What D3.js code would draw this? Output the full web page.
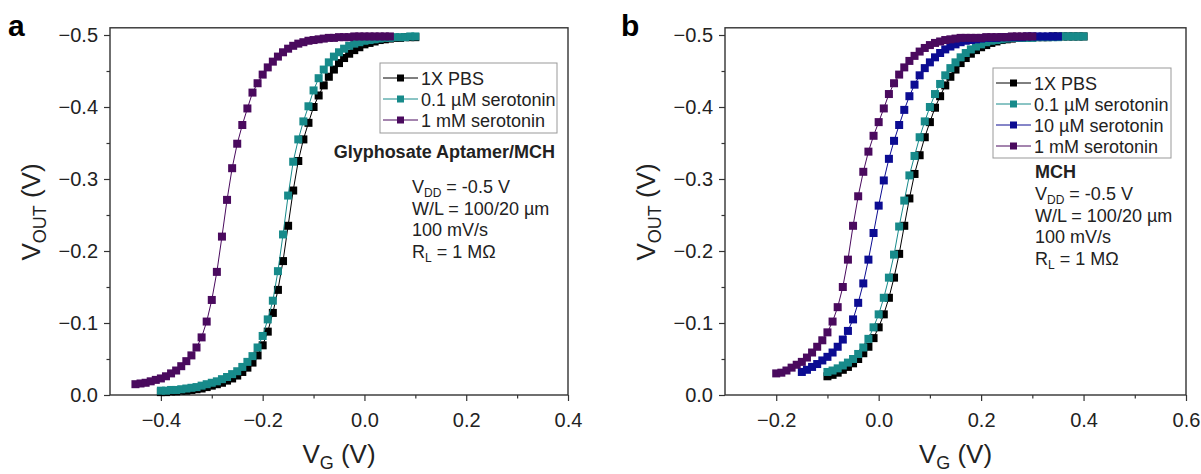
<!DOCTYPE html>
<html>
<head>
<meta charset="utf-8">
<script src="https://cdn.jsdelivr.net/npm/d3@7"></script>
<style>
  body { margin: 0; background: #fff; }
  svg { display: block; font-family: "Liberation Sans", Arial, sans-serif; }
</style>
</head>
<body>
<svg id="chart" width="1201" height="474"></svg>
<script>
// gate sweep step (V) - every series is sampled every 10 mV
const vgStep = 0.01

// panel a: Glyphosate Aptamer/MCH, V_OUT (V)
const aPbsStart = -0.40
const aPbs = [-0.004,-0.004,-0.005,-0.005,-0.006,-0.006,-0.007,-0.008,-0.009,-0.011,
  -0.013,-0.015,-0.017,-0.020,-0.023,-0.027,-0.032,-0.038,-0.045,-0.055,
  -0.069,-0.088,-0.114,-0.146,-0.186,-0.235,-0.284,-0.325,-0.355,-0.378,
  -0.400,-0.416,-0.430,-0.442,-0.452,-0.461,-0.468,-0.474,-0.479,-0.483,
  -0.487,-0.489,-0.491,-0.493,-0.494,-0.495,-0.496,-0.496,-0.497,-0.497,-0.497]
const aSer01Start = -0.40
const aSer01 = [-0.006,-0.006,-0.007,-0.007,-0.008,-0.009,-0.010,-0.011,-0.013,-0.015,
  -0.017,-0.019,-0.022,-0.025,-0.029,-0.033,-0.039,-0.046,-0.054,-0.066,
  -0.082,-0.105,-0.131,-0.172,-0.223,-0.277,-0.324,-0.355,-0.380,-0.401,
  -0.423,-0.440,-0.452,-0.462,-0.470,-0.476,-0.481,-0.485,-0.488,-0.490,
  -0.492,-0.493,-0.494,-0.495,-0.496,-0.496,-0.497,-0.497,-0.497,-0.498,-0.498]
const aSer1mStart = -0.45
const aSer1m = [-0.015,-0.016,-0.017,-0.019,-0.021,-0.023,-0.026,-0.030,-0.034,-0.040,
  -0.047,-0.055,-0.066,-0.080,-0.102,-0.132,-0.171,-0.220,-0.271,-0.315,
  -0.349,-0.375,-0.398,-0.420,-0.433,-0.445,-0.455,-0.463,-0.470,-0.476,
  -0.481,-0.485,-0.488,-0.490,-0.492,-0.493,-0.494,-0.495,-0.496,-0.496,
  -0.497,-0.497,-0.497,-0.498,-0.498,-0.498,-0.498,-0.498,-0.498,-0.498,-0.498]

// panel b: MCH
const bPbsStart = -0.10
const bPbs = [-0.026,-0.028,-0.031,-0.035,-0.039,-0.044,-0.050,-0.058,-0.067,-0.079,
  -0.094,-0.112,-0.135,-0.163,-0.196,-0.235,-0.273,-0.307,-0.333,-0.358,
  -0.379,-0.399,-0.415,-0.430,-0.442,-0.452,-0.461,-0.468,-0.474,-0.479,
  -0.483,-0.486,-0.489,-0.491,-0.493,-0.494,-0.495,-0.496,-0.496,-0.497,
  -0.497,-0.497,-0.497,-0.497,-0.498,-0.498,-0.498,-0.498,-0.498,-0.498,-0.498]
const bSer01Start = -0.10
const bSer01 = [-0.032,-0.034,-0.037,-0.041,-0.045,-0.050,-0.057,-0.066,-0.078,-0.094,
  -0.112,-0.135,-0.163,-0.195,-0.234,-0.270,-0.305,-0.332,-0.358,-0.380,
  -0.400,-0.418,-0.432,-0.444,-0.454,-0.462,-0.469,-0.475,-0.480,-0.484,
  -0.487,-0.490,-0.492,-0.493,-0.494,-0.495,-0.496,-0.496,-0.496,-0.496,
  -0.496,-0.497,-0.497,-0.497,-0.497,-0.497,-0.498,-0.498,-0.498,-0.498,-0.498]
const bSer10Start = -0.15
const bSer10 = [-0.032,-0.035,-0.039,-0.043,-0.048,-0.053,-0.059,-0.067,-0.077,-0.089,
  -0.105,-0.128,-0.155,-0.188,-0.225,-0.263,-0.298,-0.328,-0.353,-0.375,
  -0.396,-0.415,-0.431,-0.444,-0.454,-0.462,-0.469,-0.475,-0.480,-0.484,
  -0.487,-0.490,-0.492,-0.493,-0.494,-0.495,-0.496,-0.496,-0.496,-0.497,
  -0.497,-0.497,-0.497,-0.497,-0.498,-0.498,-0.498,-0.498,-0.498,-0.498,-0.498]
const bSer1mStart = -0.20
const bSer1m = [-0.030,-0.031,-0.034,-0.038,-0.042,-0.046,-0.052,-0.059,-0.067,-0.076,
  -0.087,-0.102,-0.122,-0.150,-0.188,-0.235,-0.276,-0.310,-0.338,-0.360,
  -0.379,-0.398,-0.418,-0.433,-0.445,-0.455,-0.464,-0.471,-0.477,-0.482,
  -0.486,-0.489,-0.491,-0.493,-0.494,-0.495,-0.496,-0.496,-0.496,-0.496,
  -0.496,-0.497,-0.497,-0.497,-0.497,-0.497,-0.498,-0.498,-0.498,-0.498,-0.498]

// axis ticks
const aXTicks = [-0.4, -0.2, 0.0, 0.2, 0.4]
const aXMinor = [-0.3, -0.1, 0.1, 0.3]
const bXTicks = [-0.2, 0.0, 0.2, 0.4, 0.6]
const bXMinor = [-0.1, 0.1, 0.3, 0.5]
const yTicks = [0.0, -0.1, -0.2, -0.3, -0.4, -0.5]
const yMinor = [-0.05, -0.15, -0.25, -0.35, -0.45]

// legend labels / notes
const aLabels = ['1X PBS', '0.1 µM serotonin', '1 mM serotonin']
const bLabels = ['1X PBS', '0.1 µM serotonin', '10 µM serotonin', '1 mM serotonin']
const colors = { pbs: '#000000', s01: '#178a8a', s10: '#0c0c92', s1m: '#4a0a5e' }

const svg = d3.select('#chart')
const fmt = d3.format('.1f')
const axisY = 395, plotTop = 27.8

function drawPanel(p) {
    const g = svg.append('g')
    const x = d3.scaleLinear().domain(p.xDomain).range([p.left, p.right])
    const y = d3.scaleLinear().domain([0, -0.5]).range([axisY, 35])

    //axes
    const xa = g.append('g').attr('transform', `translate(0,${axisY})`)
    xa.call(d3.axisBottom(x).tickValues(p.xTicks).tickFormat(fmt).tickSize(6).tickPadding(12))
    const xm = g.append('g').attr('transform', `translate(0,${axisY})`)
    xm.call(d3.axisBottom(x).tickValues(p.xMinor).tickFormat('').tickSize(3.5))
    const ya = g.append('g').attr('transform', `translate(${p.left},0)`)
    ya.call(d3.axisLeft(y).tickValues(yTicks).tickFormat(fmt).tickSize(6).tickPadding(6))
    const ym = g.append('g').attr('transform', `translate(${p.left},0)`)
    ym.call(d3.axisLeft(y).tickValues(yMinor).tickFormat('').tickSize(3.5))
    g.selectAll('.domain').remove()
    g.selectAll('.tick line').attr('stroke', '#333').attr('stroke-width', 1.2)
    g.selectAll('.tick text').attr('font-size', 20).attr('fill', '#222')
        .attr('font-family', '"Liberation Sans", Arial, sans-serif')

    //frame
    g.append('rect')
        .attr('x', p.left).attr('y', plotTop)
        .attr('width', p.right - p.left).attr('height', axisY - plotTop)
        .attr('fill', 'none').attr('stroke', '#333').attr('stroke-width', 1.4)

    //series
    const line = d3.line().x(d => x(d.vg)).y(d => y(d.vout))
    p.series.forEach(s => {
        const pts = s.values.map((v, i) => ({ vg: s.start + i * vgStep, vout: v }))
        g.append('path').datum(pts)
            .attr('fill', 'none').attr('stroke', s.color).attr('stroke-width', 1)
            .attr('d', line)
        g.append('g').selectAll('rect').data(pts).join('rect')
            .attr('x', d => x(d.vg) - 4).attr('y', d => y(d.vout) - 4)
            .attr('width', 8).attr('height', 8)
            .attr('fill', s.color)
    })

    //axis titles
    const xt = g.append('text').attr('x', (p.left + p.right) / 2).attr('y', 463)
        .attr('text-anchor', 'middle').attr('font-size', 26).attr('fill', '#222')
    xt.append('tspan').text('V')
    xt.append('tspan').text('G').attr('font-size', 18).attr('dy', 6)
    xt.append('tspan').text(' (V)').attr('dy', -6)

    const yt = g.append('text').attr('transform', `translate(${p.left - 70},212) rotate(-90)`)
        .attr('text-anchor', 'middle').attr('font-size', 26).attr('fill', '#222')
    yt.append('tspan').text('V')
    yt.append('tspan').text('OUT').attr('font-size', 18).attr('dy', 6)
    yt.append('tspan').text(' (V)').attr('dy', -6)

    //panel letter
    g.append('text').attr('x', p.letterX).attr('y', 36)
        .attr('font-size', 30).attr('font-weight', 'bold').text(p.letter)

    //legend
    const lg = g.append('g')
    lg.append('rect').attr('x', p.legend.x).attr('y', p.legend.y)
        .attr('width', p.legend.w).attr('height', p.legend.h)
        .attr('fill', '#fff').attr('stroke', '#999').attr('stroke-width', 1)
    p.series.forEach((s, i) => {
        const cy = p.legend.y + 15 + i * 21
        const lx = p.legend.x + 3
        lg.append('line').attr('x1', lx).attr('x2', lx + 35).attr('y1', cy).attr('y2', cy)
            .attr('stroke', s.color).attr('stroke-width', 1)
        lg.append('rect').attr('x', lx + 17.5 - 3.5).attr('y', cy - 3.5)
            .attr('width', 7).attr('height', 7).attr('fill', s.color)
        lg.append('text').attr('x', lx + 38).attr('y', cy + 6.5)
            .attr('font-size', 18).attr('fill', '#222').text(s.label)
    })

    //notes
    g.append('text').attr('x', p.note.titleX).attr('y', p.note.titleY)
        .attr('text-anchor', p.note.anchor)
        .attr('font-size', 18).attr('font-weight', 'bold').attr('fill', '#222').text(p.note.title)
    const nx = p.note.x
    const ny = p.note.y
    const n1 = g.append('text').attr('x', nx).attr('y', ny).attr('font-size', 18).attr('fill', '#222')
    n1.append('tspan').text('V')
    n1.append('tspan').text('DD').attr('font-size', 12).attr('dy', 4)
    n1.append('tspan').text(' = -0.5 V').attr('dy', -4)
    g.append('text').attr('x', nx).attr('y', ny + 21.5).attr('font-size', 18).attr('fill', '#222')
        .text('W/L = 100/20 µm')
    g.append('text').attr('x', nx).attr('y', ny + 43).attr('font-size', 18).attr('fill', '#222')
        .text('100 mV/s')
    const n4 = g.append('text').attr('x', nx).attr('y', ny + 64.5).attr('font-size', 18).attr('fill', '#222')
    n4.append('tspan').text('R')
    n4.append('tspan').text('L').attr('font-size', 12).attr('dy', 4)
    n4.append('tspan').text(' = 1 MΩ').attr('dy', -4)
}

drawPanel({
    letter: 'a', letterX: 8,
    left: 110, right: 568, xDomain: [-0.5, 0.4],
    xTicks: aXTicks, xMinor: aXMinor,
    series: [
        { label: aLabels[0], values: aPbs, start: aPbsStart, color: colors.pbs },
        { label: aLabels[1], values: aSer01, start: aSer01Start, color: colors.s01 },
        { label: aLabels[2], values: aSer1m, start: aSer1mStart, color: colors.s1m }
    ],
    legend: { x: 380, y: 63, w: 177, h: 70 },
    note: { title: 'Glyphosate Aptamer/MCH', titleX: 555, titleY: 158, anchor: 'end', x: 412, y: 193 }
})

drawPanel({
    letter: 'b', letterX: 621,
    left: 725, right: 1186, xDomain: [-0.3, 0.6],
    xTicks: bXTicks, xMinor: bXMinor,
    series: [
        { label: bLabels[0], values: bPbs, start: bPbsStart, color: colors.pbs },
        { label: bLabels[1], values: bSer01, start: bSer01Start, color: colors.s01 },
        { label: bLabels[2], values: bSer10, start: bSer10Start, color: colors.s10 },
        { label: bLabels[3], values: bSer1m, start: bSer1mStart, color: colors.s1m }
    ],
    legend: { x: 993, y: 68, w: 178, h: 90 },
    note: { title: 'MCH', titleX: 1035, titleY: 178, anchor: 'start', x: 1035, y: 200 }
})
</script>
</body>
</html>
